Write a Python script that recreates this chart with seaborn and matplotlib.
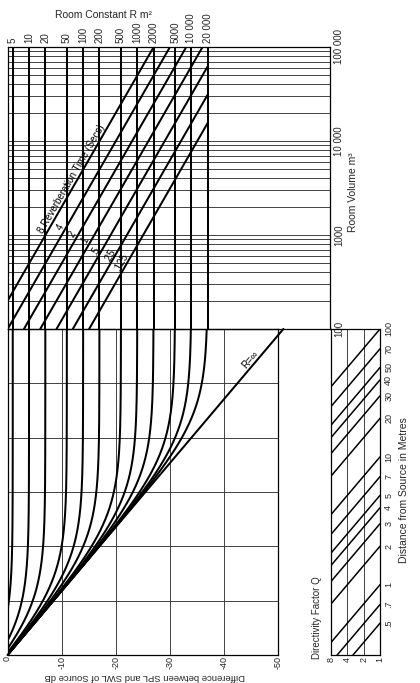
import numpy as np
import pandas as pd
import matplotlib
matplotlib.use("Agg")
import matplotlib.pyplot as plt
from matplotlib.ticker import NullLocator, NullFormatter, LogLocator, FixedLocator
import seaborn as sns

# ---------------- data ----------------
room_constants = [5, 10, 20, 50, 100, 200, 500, 1000, 2000, 5000, 10000, 20000]
room_constant_labels = ["5", "10", "20", "50", "100", "200", "500", "1000",
                        "2000", "5000", "10 000", "20 000"]
reverb_times = [8, 4, 2, 1, 0.5, 0.25, 0.125]
reverb_labels = ["8 Reverberation Time (Secs)", "4", "2", "1", ".5", ".25", ".125"]
reverb_label_volume = [1000, 1130, 950, 820, 640, 570, 480]
volume_ticks = [100, 1000, 10000, 100000]
volume_labels = ["100", "1000", "10 000", "100 000"]
db_ticks = [0, -10, -20, -30, -40, -50]
db_labels = ["0", "-10", "-20", "-30", "-40", "-50"]
distances = [100, 70, 50, 40, 30, 20, 10, 7, 5, 4, 3, 2, 1, 0.7, 0.5]
distance_labels = ["100", "70", "50", "40", "30", "20", "10", "7", "5", "4",
                   "3", "2", "1", ".7", ".5"]
directivity = [8, 4, 2, 1]
directivity_labels = ["8", "4", "2", "1"]

# physical relations used by the nomogram
SABINE = 0.161                      # R ~ 0.161 V / T
R0 = 1 / np.sqrt(4 * np.pi)         # distance where the direct field is 0 dB
R_MAX_DRAWN = 20000                 # reverberation lines stop at this room constant
R_MIN_DRAWN = 4                     # ... and at the 0 dB edge
DIST_TOP = 100

sns.set_style("white")
plt.rcParams['font.family'] = ['Liberation Sans', 'DejaVu Sans']
plt.rcParams['font.size'] = 7

W, H = 420, 683
fig = plt.figure(figsize=(W / 100, H / 100), dpi=100)


def box(x0, y0, x1, y1):
    return [x0 / W, 1 - y1 / H, (x1 - x0) / W, (y1 - y0) / H]


INK = "black"
GRID = "#333333"
THICK = 1.45
THIN = 0.65
FS = 7

ax_up = fig.add_axes(box(7.5, 47, 330, 329))
ax_low = fig.add_axes(box(7.5, 329, 278, 655))
ax_q = fig.add_axes(box(331, 329, 380, 655))

for ax in (ax_up, ax_low, ax_q):
    ax.patch.set_alpha(0)
    for s in ax.spines.values():
        s.set_visible(True)
        s.set_color(INK)
        s.set_linewidth(0.9)
    ax.tick_params(which="both", length=0)

# ---------------- upper panel: room constant vs room volume ----------------
db_up_min = -59.6
ax_up.set_yscale("log")
ax_up.set_xlim(0, db_up_min)
ax_up.set_ylim(volume_ticks[0], volume_ticks[-1])
ax_up.yaxis.set_major_locator(FixedLocator(volume_ticks))
ax_up.yaxis.set_minor_locator(LogLocator(base=10, subs=np.arange(2, 10)))
ax_up.yaxis.set_minor_formatter(NullFormatter())
ax_up.grid(axis="y", which="both", color=GRID, lw=THIN)
ax_up.grid(axis="x", visible=False)
ax_up.yaxis.tick_right()
ax_up.set_yticklabels(volume_labels, rotation=90, va="center", fontsize=FS)
ax_up.tick_params(axis="y", pad=3)

R_db = 10 * np.log10(4 / np.array(room_constants, dtype=float))
ax_up.xaxis.tick_top()
ax_up.set_xticks(R_db)
ax_up.set_xticklabels(room_constant_labels, rotation=90, fontsize=FS)
ax_up.tick_params(axis="x", pad=3)

rows = []
for R, x in zip(room_constants, R_db):
    for V in (volume_ticks[0], volume_ticks[-1]):
        rows.append({"R": R, "dB": x, "V": V})
df_rv = pd.DataFrame(rows)
sns.lineplot(data=df_rv, x="dB", y="V", units="R", estimator=None, sort=False,
             color=INK, lw=THICK, ax=ax_up)

rows = []
for T in reverb_times:
    v_lo = max(volume_ticks[0], R_MIN_DRAWN * T / SABINE)
    v_hi = min(volume_ticks[-1], R_MAX_DRAWN * T / SABINE)
    for V in np.geomspace(v_lo, v_hi, 30):
        rows.append({"T": T, "V": V, "dB": 10 * np.log10(4 * T / (SABINE * V))})
df_t = pd.DataFrame(rows)
sns.lineplot(data=df_t, x="dB", y="V", units="T", estimator=None, sort=False,
             color=INK, lw=THICK, ax=ax_up)
ax_up.set_xlabel("")
ax_up.set_ylabel("")


def screen_angle(ax, x1, y1, x2, y2):
    p1 = ax.transData.transform((x1, y1))
    p2 = ax.transData.transform((x2, y2))
    return np.degrees(np.arctan2(p2[1] - p1[1], p2[0] - p1[0]))


for i, (T, lab, V) in enumerate(zip(reverb_times, reverb_labels, reverb_label_volume)):
    x = 10 * np.log10(4 * T / (SABINE * V))
    x2 = 10 * np.log10(4 * T / (SABINE * V * 10))
    ang = screen_angle(ax_up, x, V, x2, V * 10)
    ax_up.text(x, V, lab, rotation=ang, rotation_mode="anchor",
               ha="left" if i == 0 else "center", va="bottom", fontsize=FS,
               color=INK)

# ---------------- lower panel: distance vs level difference ----------------
ax_low.set_yscale("log")
ax_low.set_xlim(db_ticks[0], db_ticks[-1])
ax_low.set_ylim(R0, DIST_TOP)
ax_low.set_xticks(db_ticks)
ax_low.set_xticklabels(db_labels, rotation=90, fontsize=6.5)
ax_low.tick_params(axis="x", pad=0.5)
ax_low.yaxis.set_major_locator(NullLocator())
ax_low.yaxis.set_minor_locator(NullLocator())
ax_low.grid(axis="x", color=GRID, lw=THIN)
ax_low.grid(axis="y", visible=False)
row_lines = R0 * (DIST_TOP / R0) ** (np.arange(1, 6) / 6)
ax_low.hlines(row_lines, db_ticks[0], db_ticks[-1], color=GRID, lw=THIN, zorder=1)

r = np.geomspace(R0, DIST_TOP, 400)
rows = []
for R in room_constants:
    L = 10 * np.log10(1 / (4 * np.pi * r ** 2) + 4 / R)
    for ri, li in zip(r, L):
        rows.append({"R": R, "r": ri, "dB": li})
df_c = pd.DataFrame(rows)
sns.lineplot(data=df_c, x="dB", y="r", units="R", estimator=None, sort=False,
             color=INK, lw=THICK, ax=ax_low)
ax_low.set_xlabel("")
ax_low.set_ylabel("")

L_inf = 10 * np.log10(1 / (4 * np.pi * r ** 2))
ax_low.plot(L_inf, r, color=INK, lw=THICK, clip_on=False)
r_lab = 54
x_lab = 10 * np.log10(1 / (4 * np.pi * r_lab ** 2))
ang = screen_angle(ax_low, x_lab, r_lab, x_lab - 20, r_lab * 10)
ax_low.text(x_lab, r_lab, "R=∞", rotation=ang, rotation_mode="anchor",
            ha="center", va="bottom", fontsize=FS, color=INK)

# ---------------- directivity panel ----------------
ax_q.set_xscale("log")
ax_q.set_yscale("log")
ax_q.set_xlim(directivity[0], directivity[-1])
ax_q.set_ylim(R0, DIST_TOP)
ax_q.set_xticks(directivity)
ax_q.set_xticklabels(directivity_labels, rotation=90, fontsize=6.5)
ax_q.xaxis.set_minor_locator(NullLocator())
ax_q.tick_params(axis="x", pad=1.5)
ax_q.yaxis.tick_right()
ax_q.set_yticks(distances)
ax_q.set_yticklabels(distance_labels, rotation=90, va="center", fontsize=6.5)
ax_q.yaxis.set_minor_locator(NullLocator())
ax_q.tick_params(axis="y", pad=3)
ax_q.grid(axis="x", color=GRID, lw=THIN)
ax_q.grid(axis="y", visible=False)

Q = np.geomspace(directivity[-1], directivity[0], 30)
rows = []
for d in distances:
    for qi in Q:
        rows.append({"d": d, "Q": qi, "r": d / np.sqrt(qi)})
df_q = pd.DataFrame(rows)
sns.lineplot(data=df_q, x="Q", y="r", units="d", estimator=None, sort=False,
             color=INK, lw=1.1, ax=ax_q)
ax_q.set_xlabel("")
ax_q.set_ylabel("")

# ---------------- titles ----------------
fig.text(103 / W, 1 - 15 / H, "Room Constant R m²", ha="center", va="center",
         fontsize=7.5)
fig.text(353 / W, 1 - 192 / H, "Room Volume m³", ha="center", va="center",
         rotation=90, fontsize=7.5)
fig.text(145 / W, 1 - 677 / H, "Difference between SPL and SWL of Source dB",
         ha="center", va="center", rotation=180, fontsize=6.8)
fig.text(317 / W, 1 - 618 / H, "Directivity Factor Q", ha="center", va="center",
         rotation=90, fontsize=7)
fig.text(404 / W, 1 - 490 / H, "Distance from Source in Metres", ha="center",
         va="center", rotation=90, fontsize=7.5)

fig.savefig("out.png", dpi=100, facecolor="white")
